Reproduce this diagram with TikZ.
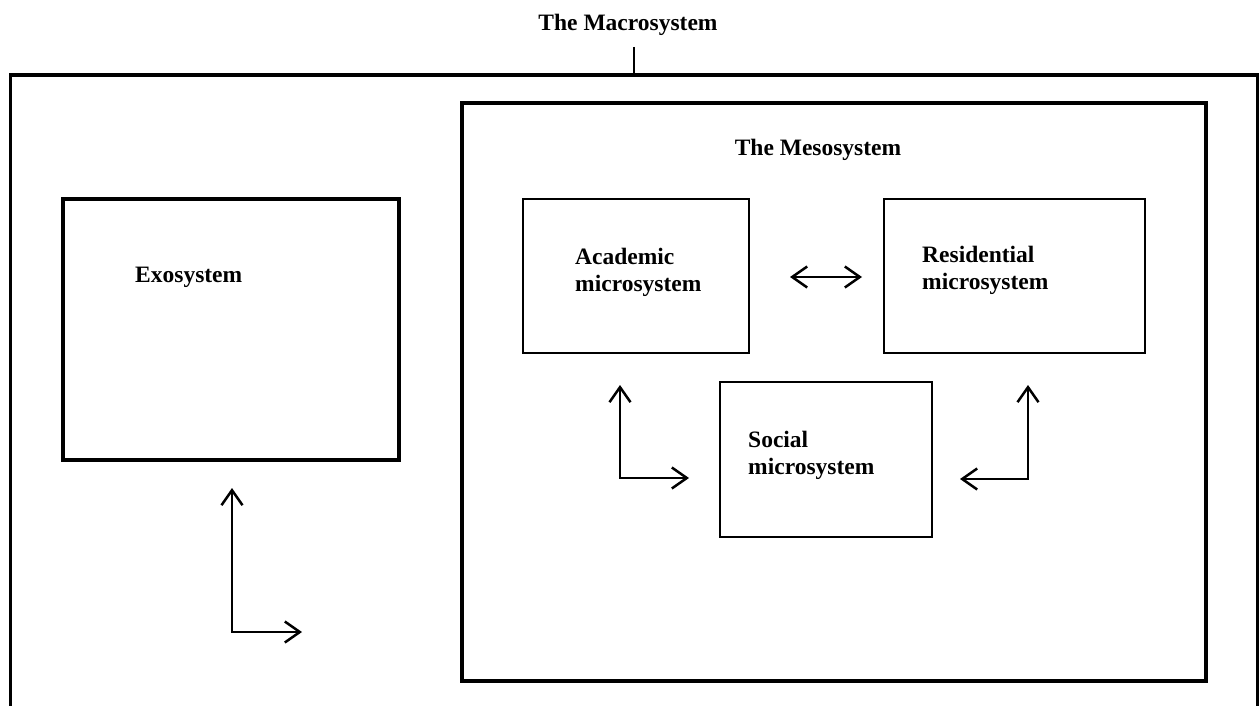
\documentclass[tikz,border=0pt]{standalone}
\usepackage{fontspec}
\setmainfont{Liberation Serif}
\usetikzlibrary{arrows.meta}
\tikzset{
  thickbox/.style={draw, line width=3.5pt, minimum width=#1, inner sep=0pt, outer sep=0pt},
  thinbox/.style={draw, line width=2pt, inner sep=0pt, outer sep=0pt},
  lbl/.style={font=\bfseries\fontsize{23.5}{27}\selectfont, align=left, inner sep=0pt, anchor=west},
  arr/.style={line width=2.5pt, {Straight Barb[length=15pt,width=21pt,line width=2.5pt]}-{Straight Barb[length=15pt,width=21pt,line width=2.5pt]}}
}
\begin{document}
\begin{tikzpicture}[x=1pt,y=-1pt]
\path[use as bounding box] (0,0) rectangle (1260,706);
\clip (0,0) rectangle (1260,706);
% outer macrosystem frame (open at bottom)
\coordinate (o1) at (10.5,715);
\coordinate (o2) at (10.5,75);
\coordinate (o3) at (1257.5,75);
\coordinate (o4) at (1257.5,715);
\draw[line width=3.5pt] (o1) -- (o2) -- (o3) -- (o4);
% title and tick
\node[font=\bfseries\fontsize{23.5}{27}\selectfont, inner sep=0pt] (title) at (628,25) {The Macrosystem};
\coordinate (t1) at (634,47);
\coordinate (t2) at (634,75);
\draw[line width=2.5pt] (t1) -- (t2);
% mesosystem box
\node[draw, line width=3.5pt, minimum width=744pt, minimum height=578pt, inner sep=0pt] (meso) at (834,392) {};
\node[font=\bfseries\fontsize{23.5}{27}\selectfont, inner sep=0pt] (mesolbl) at (818,150) {The Mesosystem};
% exosystem box
\node[draw, line width=3.5pt, minimum width=336pt, minimum height=261pt, inner sep=0pt] (exo) at (231,329.5) {};
\node[lbl] (exolbl) at (135,277) {Exosystem};
% microsystems
\node[thinbox, minimum width=226pt, minimum height=154pt] (acad) at (636,276) {};
\node[lbl] (acadlbl) at (575,272) {Academic\\microsystem};
\node[thinbox, minimum width=261pt, minimum height=154pt] (resid) at (1014.5,276) {};
\node[lbl] (residlbl) at (922,270) {Residential\\microsystem};
\node[thinbox, minimum width=212pt, minimum height=155pt] (social) at (826,459.5) {};
\node[lbl] (sociallbl) at (748,455) {Social\\microsystem};
% arrows
\draw[arr] ([xshift=41pt,yshift=-1pt]acad.east) -- ([xshift=-22pt,yshift=-1pt]resid.west);
\coordinate (la) at (620,385);
\coordinate (lb) at (620,478);
\coordinate (lc) at (689,478);
\draw[arr] (la) -- (lb) -- (lc);
\coordinate (ra) at (1028,385);
\coordinate (rb) at (1028,479);
\coordinate (rc) at (960,479);
\draw[arr] (ra) -- (rb) -- (rc);
\coordinate (ba) at (232,488);
\coordinate (bb) at (232,632);
\coordinate (bc) at (302,632);
\draw[arr] (ba) -- (bb) -- (bc);
\end{tikzpicture}
\end{document}
